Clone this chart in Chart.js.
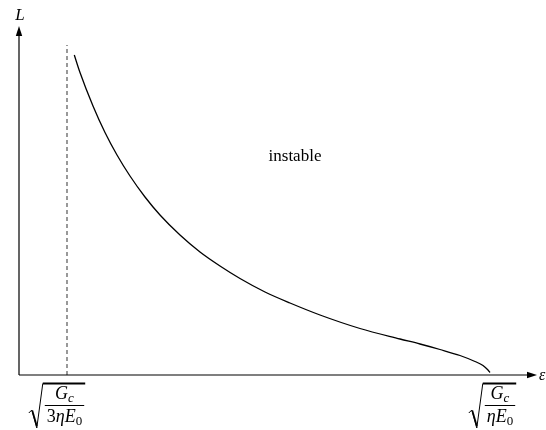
<!DOCTYPE html>
<html>
<head>
<meta charset="utf-8">
<script src="https://cdn.jsdelivr.net/npm/chart.js@4/dist/chart.umd.min.js"></script>
<style>
  html, body { margin: 0; padding: 0; background: #fff; }
  canvas { display: block; }
</style>
</head>
<body>
<canvas id="c" width="546" height="430"></canvas>
<script>
// courbe L(eps), valeurs (unites arbitraires)
const curveEps = [55.3, 61, 74, 86, 98, 111, 126, 141, 161, 181, 201, 221, 246, 271, 301, 341, 381, 401, 421, 441, 456, 464, 469, 471];
const curveL   = [320, 302.5, 269, 242.5, 220, 199, 178, 160, 140, 123, 109, 96.5, 83, 72, 60, 46.5, 36, 31, 25.5, 19.5, 13.5, 9.5, 5, 2.5];

// asymptote verticale (pointilles)
const limitEps = [48, 48];
const limitL   = [0, 330];

// graduations de l'axe eps
const tickEps = [48, 471];
const tickNum = ['G', 'G'];
const tickNumSub = ['c', 'c'];
const tickDenPre = ['3', ''];
const tickDen = ['ηE', 'ηE'];
const tickDenSub = ['0', '0'];

const regionText = 'instable';
const regionAt = { x: 276, y: 218 };

const serif = '"Liberation Serif", "DejaVu Serif", serif';

function toXY(xs, ys) {
  return xs.map((x, i) => ({ x: x, y: ys[i] }));
}

// dessine un morceau de texte, retourne la largeur
function piece(ctx, txt, x, y, font, draw) {
  ctx.font = font;
  const w = ctx.measureText(txt).width;
  if (draw) ctx.fillText(txt, x, y);
  return w;
}

function drawRadFrac(ctx, cx, i) {
  const big = 18, small = 13;
  const fi = 'italic ' + big + 'px ' + serif;
  const fr = big + 'px ' + serif;
  const si = 'italic ' + small + 'px ' + serif;
  const sr = small + 'px ' + serif;

  ctx.textBaseline = 'alphabetic';
  ctx.textAlign = 'left';

  const wn = piece(ctx, tickNum[i], 0, 0, fi, false) + piece(ctx, tickNumSub[i], 0, 0, si, false);
  const wd = piece(ctx, tickDenPre[i], 0, 0, fr, false) + piece(ctx, tickDen[i], 0, 0, fi, false) +
             piece(ctx, tickDenSub[i], 0, 0, sr, false);
  const w = Math.max(wn, wd) + 6;
  const L = cx - w / 2, R = cx + w / 2;

  const topY = 383.5, barY = 405.5, numBase = 399, denBase = 422;

  // numerateur
  let x = cx - wn / 2;
  x += piece(ctx, tickNum[i], x, numBase, fi, true);
  piece(ctx, tickNumSub[i], x, numBase + 3, si, true);

  // denominateur
  x = cx - wd / 2;
  x += piece(ctx, tickDenPre[i], x, denBase, fr, true);
  x += piece(ctx, tickDen[i], x, denBase, fi, true);
  piece(ctx, tickDenSub[i], x, denBase + 3, sr, true);

  // barre de fraction
  ctx.lineWidth = 1;
  ctx.beginPath();
  ctx.moveTo(L + 1, barY);
  ctx.lineTo(R - 1, barY);
  ctx.stroke();

  // radical
  ctx.lineWidth = 1;
  ctx.beginPath();
  ctx.moveTo(L - 15, 413);
  ctx.lineTo(L - 12, 410);
  ctx.lineTo(L - 7, 428);
  ctx.lineTo(L - 1, topY);
  ctx.stroke();
  ctx.lineWidth = 1.7;
  ctx.beginPath();
  ctx.moveTo(L - 11.5, 410.5);
  ctx.lineTo(L - 7, 426);
  ctx.stroke();
  ctx.lineWidth = 1.8;
  ctx.beginPath();
  ctx.moveTo(L - 1, topY);
  ctx.lineTo(R, topY);
  ctx.stroke();
}

const axesPlugin = {
  id: 'axesPlugin',
  afterDraw(chart, args, opts) {
    const ctx = chart.ctx;
    const xs = chart.scales.x, ys = chart.scales.y;
    const x0 = xs.getPixelForValue(0), y0 = ys.getPixelForValue(0);
    const xEnd = xs.right, yEnd = ys.top;
    ctx.save();
    ctx.strokeStyle = '#000';
    ctx.fillStyle = '#000';
    ctx.lineWidth = 1.2;

    // axes
    ctx.beginPath();
    ctx.moveTo(x0, y0);
    ctx.lineTo(xEnd - 6, y0);
    ctx.moveTo(x0, y0);
    ctx.lineTo(x0, yEnd + 6);
    ctx.stroke();

    // fleches
    ctx.beginPath();
    ctx.moveTo(xEnd, y0);
    ctx.lineTo(xEnd - 10, y0 - 3.2);
    ctx.lineTo(xEnd - 10, y0 + 3.2);
    ctx.closePath();
    ctx.fill();
    ctx.beginPath();
    ctx.moveTo(x0, yEnd);
    ctx.lineTo(x0 - 3.2, yEnd + 10);
    ctx.lineTo(x0 + 3.2, yEnd + 10);
    ctx.closePath();
    ctx.fill();

    // noms des axes
    ctx.font = 'italic 17px ' + serif;
    ctx.textAlign = 'center';
    ctx.textBaseline = 'alphabetic';
    ctx.fillText('L', x0 + 1, yEnd - 6);
    ctx.font = 'italic 16px ' + serif;
    ctx.textAlign = 'left';
    ctx.fillText('ε', xEnd + 2, y0 + 5);

    // graduations
    tickEps.forEach((v, i) => {
      drawRadFrac(ctx, xs.getPixelForValue(v) + opts.shift[i], i);
    });

    // texte de la zone
    ctx.font = '17px ' + serif;
    ctx.textAlign = 'center';
    ctx.textBaseline = 'middle';
    ctx.fillText(regionText, xs.getPixelForValue(regionAt.x), ys.getPixelForValue(regionAt.y));
    ctx.restore();
  }
};

new Chart(document.getElementById('c'), {
  type: 'scatter',
  data: {
    datasets: [
      {
        data: toXY(curveEps, curveL),
        showLine: true,
        borderColor: '#000',
        borderWidth: 1.3,
        pointRadius: 0,
        cubicInterpolationMode: 'monotone'
      },
      {
        data: toXY(limitEps, limitL),
        showLine: true,
        borderColor: '#555',
        borderWidth: 1.2,
        borderDash: [4, 3],
        pointRadius: 0
      }
    ]
  },
  options: {
    responsive: false,
    animation: false,
    layout: { padding: { left: 19, right: 9, top: 26, bottom: 55 } },
    scales: {
      x: { type: 'linear', min: 0, max: 518, display: false },
      y: { type: 'linear', min: 0, max: 349, display: false }
    },
    plugins: {
      legend: { display: false },
      tooltip: { enabled: false },
      axesPlugin: { shift: [-2.5, 10] }
    }
  },
  plugins: [axesPlugin]
});
</script>
</body>
</html>
